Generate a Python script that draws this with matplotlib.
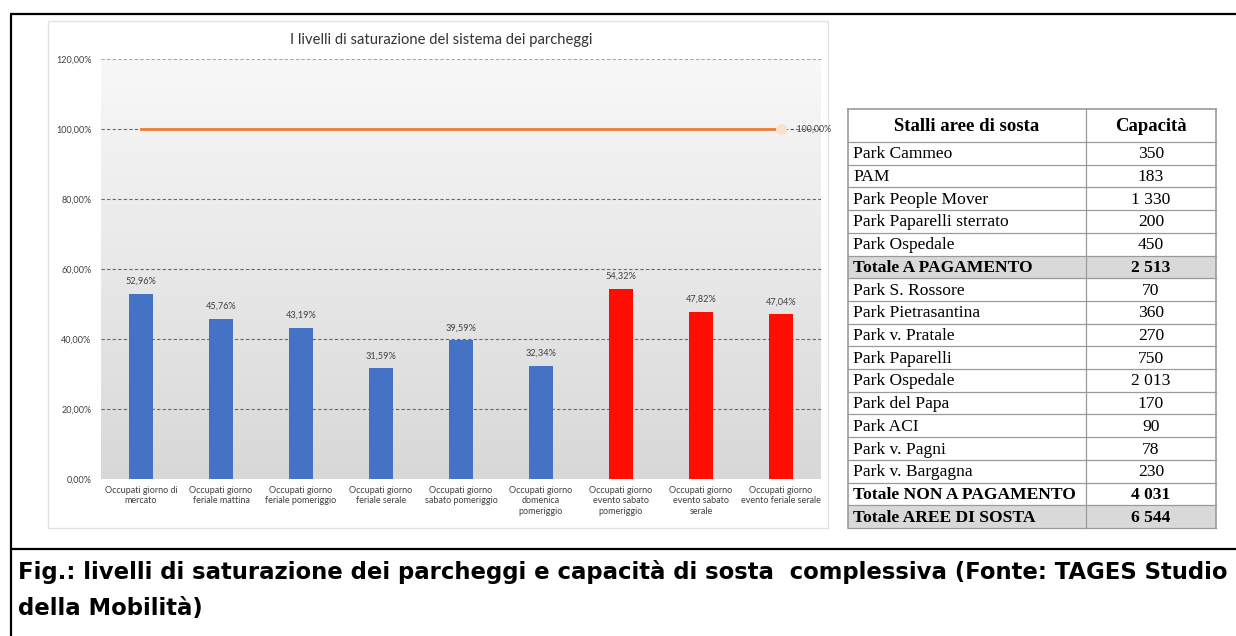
import numpy as np
import matplotlib
matplotlib.use("Agg")
import matplotlib.pyplot as plt
from matplotlib.patches import Rectangle

# occupancy levels of the parking system
categorie = [
    "Occupati giorno di\nmercato",
    "Occupati giorno\nferiale mattina",
    "Occupati giorno\nferiale pomeriggio",
    "Occupati giorno\nferiale serale",
    "Occupati giorno\nsabato pomeriggio",
    "Occupati giorno\ndomenica\npomeriggio",
    "Occupati giorno\nevento sabato\npomeriggio",
    "Occupati giorno\nevento sabato\nserale",
    "Occupati giorno\nevento feriale serale",
]
saturazione = [52.96, 45.76, 43.19, 31.59, 39.59, 32.34, 54.32, 47.82, 47.04]
evento = [False, False, False, False, False, False, True, True, True]
capienza = [100, 100, 100, 100, 100, 100, 100, 100, 100]
y_ticks = [0, 20, 40, 60, 80, 100, 120]

# parking capacity table
stalli = [
    "Park Cammeo", "PAM", "Park People Mover", "Park Paparelli sterrato",
    "Park Ospedale", "Totale A PAGAMENTO", "Park S. Rossore",
    "Park Pietrasantina", "Park v. Pratale", "Park Paparelli",
    "Park Ospedale", "Park del Papa", "Park ACI", "Park v. Pagni",
    "Park v. Bargagna", "Totale NON A PAGAMENTO", "Totale AREE DI SOSTA",
]
capacita = [350, 183, 1330, 200, 450, 2513, 70, 360, 270, 750, 2013,
            170, 90, 78, 230, 4031, 6544]
righe_totale = ["Totale A PAGAMENTO", "Totale NON A PAGAMENTO", "Totale AREE DI SOSTA"]
righe_grigie = ["Totale A PAGAMENTO", "Totale AREE DI SOSTA"]

didascalia = [
    "Fig.: livelli di saturazione dei parcheggi e capacità di sosta  "
    "complessiva (Fonte: TAGES Studio",
    "della Mobilità)",
]

W, H = 1236, 636
fig = plt.figure(figsize=(W / 100, H / 100), dpi=100)
fig.patch.set_facecolor("white")

# page layer in pixel coordinates
page = fig.add_axes([0, 0, 1, 1])
page.set_xlim(0, W)
page.set_ylim(H, 0)
page.axis("off")

page.plot([10, W], [14, 14], color="black", lw=1.6, solid_capstyle="butt")
page.plot([11, 11], [14, H], color="black", lw=1.6, solid_capstyle="butt")
page.plot([11, W], [549, 549], color="black", lw=1.6, solid_capstyle="butt")

# chart panel
page.add_patch(Rectangle((48, 21), 780, 507, facecolor="white",
                         edgecolor="#e2e2e2", lw=1.0))

# table
tx0, tx1, tx2 = 848, 1086, 1216
ty0, ty_head = 109, 142
row_h = (528 - ty_head) / len(stalli)
grid_col = "#9a9a9a"
serif = ["Liberation Serif", "DejaVu Serif"]

page.text((tx0 + tx1) / 2, (ty0 + ty_head) / 2 + 1, "Stalli aree di sosta",
          ha="center", va="center", fontsize=13.5, fontweight="bold", family=serif)
page.text((tx1 + tx2) / 2, (ty0 + ty_head) / 2 + 1, "Capacità",
          ha="center", va="center", fontsize=13.5, fontweight="bold", family=serif)

for i, (nome, cap) in enumerate(zip(stalli, capacita)):
    top = ty_head + i * row_h
    if nome in righe_grigie:
        page.add_patch(Rectangle((tx0, top), tx2 - tx0, row_h,
                                 facecolor="#d9d9d9", edgecolor="none"))
    peso = "bold" if nome in righe_totale else "normal"
    valore = f"{cap:,}".replace(",", " ")
    page.text(tx0 + 5, top + row_h / 2 + 1, nome, ha="left", va="center",
              fontsize=12.6, fontweight=peso, family=serif)
    page.text((tx1 + tx2) / 2, top + row_h / 2 + 1, valore, ha="center",
              va="center", fontsize=12.6, fontweight=peso, family=serif)

for i in range(len(stalli) + 1):
    y = ty_head + i * row_h
    page.plot([tx0, tx2], [y, y], color=grid_col, lw=0.9)
page.plot([tx0, tx2], [ty0, ty0], color=grid_col, lw=1.2)
page.plot([tx0, tx0], [ty0, 528], color=grid_col, lw=1.2)
page.plot([tx2, tx2], [ty0, 528], color=grid_col, lw=1.2)
page.plot([tx1, tx1], [ty0, 528], color=grid_col, lw=0.9)

# caption
for yy, riga in zip([572, 608], didascalia):
    page.text(18, yy, riga, ha="left", va="center", fontsize=16.4,
              fontweight="bold", family=["DejaVu Sans"])

# bar chart
ax = fig.add_axes([101 / W, (H - 479) / H, 720 / W, 420 / H])
x = np.arange(len(categorie))
ax.set_xlim(-0.5, len(categorie) - 0.5)
ax.set_ylim(0, 120)

grad = np.linspace(0, 1, 256).reshape(-1, 1)
ax.imshow(grad, extent=[-0.5, len(categorie) - 0.5, 0, 120], aspect="auto",
          origin="lower", cmap=matplotlib.colors.LinearSegmentedColormap.from_list(
              "sfondo", ["#d8d8d8", "#f8f8f8"]), zorder=0)

for t in y_ticks[1:]:
    ax.axhline(t, color="#6a6a6a" if t < 120 else "#a8a8a8", lw=0.8,
               ls=(0, (3, 2)), zorder=1)

colori = ["#ff0d00" if e else "#4472c4" for e in evento]
ax.bar(x, saturazione, width=0.31, color=colori, zorder=2)

sans = ["Lato", "DejaVu Sans"]
for xi, v in zip(x, saturazione):
    ax.text(xi, v + 2.2, f"{v:.2f}".replace(".", ",") + "%", ha="center",
            va="bottom", fontsize=6.6, color="#404040", family=sans)

ax.plot(x, capienza, color="#ed7d31", lw=2.0, zorder=3)
ax.plot(x[-1], capienza[-1], "o", ms=7, color="#fbe0cc", zorder=3)
ax.text(x[-1] + 0.12, capienza[-1], "- " + f"{capienza[-1]:.2f}".replace(".", ",") + "%",
        ha="left", va="center", fontsize=6.3, color="#404040", family=sans,
        zorder=4)

ax.set_yticks(y_ticks)
ax.set_yticklabels([f"{t:.2f}".replace(".", ",") + "%" for t in y_ticks],
                   fontsize=6.5, color="#404040", family=sans)
ax.set_xticks(x)
ax.set_xticklabels(categorie, fontsize=6.5, color="#404040", family=sans,
                   linespacing=1.2)
ax.tick_params(length=0, pad=5)
ax.tick_params(axis="y", pad=7)
for s in ax.spines.values():
    s.set_visible(False)

fig.text(441 / W, 1 - 40 / H, "I livelli di saturazione del sistema dei parcheggi",
         ha="center", va="center", fontsize=10.6, color="#333333", family=sans)

fig.savefig("out.png", dpi=100, facecolor="white")
